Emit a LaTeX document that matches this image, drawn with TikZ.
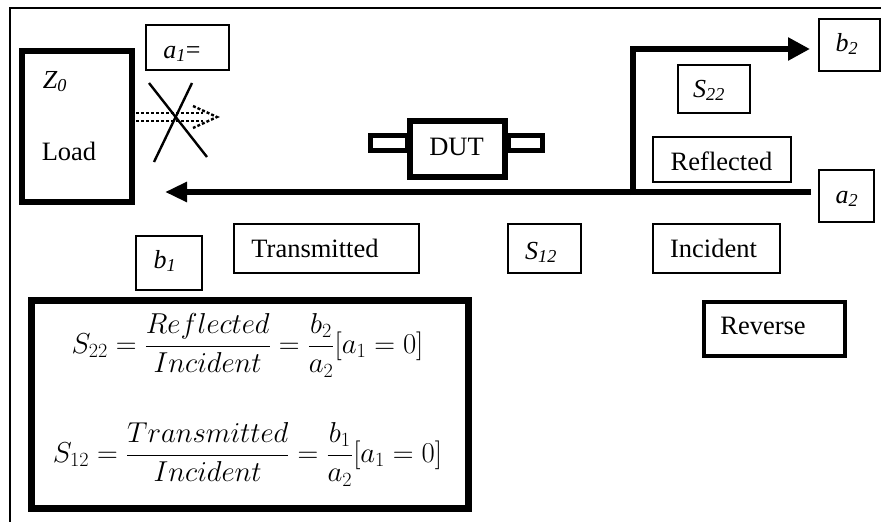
\RequirePackage{fix-cm}
\documentclass[tikz,border=0pt]{standalone}
\usepackage{fontspec}
\setmainfont{Liberation Serif}
\usetikzlibrary{arrows.meta}

\begin{document}
\begin{tikzpicture}[x=1pt,y=-1pt,
  thinbox/.style={draw, line width=1.3pt, inner sep=0pt},
  heavybox/.style={draw, line width=#1, inner sep=0pt},
  word/.style={anchor=base, inner sep=0pt, font=\fontsize{26.5}{30}\selectfont},
  sym/.style={anchor=base, inner sep=0pt, font=\fontsize{26}{30}\selectfont\itshape},
  eqn/.style={anchor=base, inner sep=0pt, font=\fontsize{28.8}{34}\selectfont},
  wave/.style={line width=6.5pt},
  dotline/.style={line width=2.4pt, dash pattern=on 3pt off 2pt},
  crossline/.style={line width=2.4pt},
]
\useasboundingbox (0,0) rectangle (881,522);
\clip (0,0) rectangle (881,522);

% outer frame
\draw[line width=1.5pt] (10,530) -- (10,8) -- (890,8);

% load and DUT
\node[heavybox=6pt, minimum width=110pt, minimum height=151pt] (loadbox) at (77,126.5) {};
\node[sym] (z0) at (55,88) {Z\textsubscript{\itshape 0}};
\node[word] (load) at (69,160) {Load};

\node[heavybox=5pt, minimum width=36.5pt, minimum height=15pt] (stubl) at (388.75,143) {};
\node[heavybox=5pt, minimum width=34.5pt, minimum height=15pt] (stubr) at (525.25,143) {};
\node[heavybox=6pt, fill=white, minimum width=95pt, minimum height=56pt] (dutbox) at (457.5,149) {};
\node[word] (dut) at (456.5,155) {DUT};

% labelled boxes
\node[thinbox, minimum width=83pt, minimum height=45pt] (a1box) at (187.5,47.5) {};
\node[sym] (a1) at (182,58) {a\textsubscript{\itshape 1}\upshape=};

\node[thinbox, minimum width=61pt, minimum height=52pt] (b2box) at (849.5,45) {};
\node[sym] (b2) at (847,51) {b\textsubscript{\itshape 2}};

\node[thinbox, minimum width=72pt, minimum height=48pt] (s22box) at (714,89) {};
\node[sym] (s22) at (709,97) {S\textsubscript{\itshape 22}};

\node[thinbox, minimum width=138pt, minimum height=45pt] (reflbox) at (722,159.5) {};
\node[word] (refl) at (721.5,170) {Reflected};

\node[thinbox, minimum width=55pt, minimum height=52pt] (a2box) at (846.5,196) {};
\node[sym] (a2) at (847,203) {a\textsubscript{\itshape 2}};

\node[thinbox, minimum width=66pt, minimum height=54pt] (b1box) at (169,263) {};
\node[sym] (b1) at (165,268) {b\textsubscript{\itshape 1}};

\node[thinbox, minimum width=185pt, minimum height=49pt] (transbox) at (326.5,248.5) {};
\node[word] (trans) at (315,257) {Transmitted};

\node[thinbox, minimum width=73pt, minimum height=49pt] (s12box) at (544.5,248.5) {};
\node[sym] (s12) at (541,259) {S\textsubscript{\itshape 12}};

\node[thinbox, minimum width=127pt, minimum height=49pt] (incbox) at (716.5,248.5) {};
\node[word] (inc) at (713.5,257) {Incident};

\node[heavybox=4pt, minimum width=141pt, minimum height=54pt] (revbox) at (774.5,329) {};
\node[word] (rev) at (763,334) {Reverse};

% equations
\node[heavybox=7pt, minimum width=437pt, minimum height=208pt] (eqbox) at (250,404.5) {};
\node[eqn] (eq1) at (247.5,353) {$\displaystyle S_{22}=\frac{Reflected}{Incident}=\frac{b_2}{a_2}[a_1=0]$};
\node[eqn] (eq2) at (247.5,462) {$\displaystyle S_{12}=\frac{Transmitted}{Incident}=\frac{b_1}{a_2}[a_1=0]$};

% signal paths
\coordinate (mainstart) at (811,192);
\coordinate (maintip) at (165,192);
\coordinate (branch) at (633,195);
\coordinate (corner) at (633,49);
\coordinate (b2tip) at (810,49);
\draw[wave, -{Triangle[length=22pt,width=19pt]}] (mainstart) -- (maintip);
\draw[line width=6pt, line join=miter, -{Triangle[length=22pt,width=22pt]}] (branch) -- (corner) -- (b2tip);

% blocked incident wave at the load
\coordinate (du1) at (136,113);
\coordinate (du2) at (203,113);
\coordinate (dl1) at (136,121);
\coordinate (dl2) at (203,121);
\coordinate (hu) at (193,106);
\coordinate (htip) at (217,117);
\coordinate (hl) at (193,128);
\draw[dotline] (du1) -- (du2);
\draw[dotline] (dl1) -- (dl2);
\draw[dotline] (hu) -- (htip) -- (hl);

\coordinate (x1a) at (149,83);
\coordinate (x1b) at (207,157);
\coordinate (x2a) at (192,83);
\coordinate (x2b) at (154,162);
\draw[crossline] (x1a) -- (x1b);
\draw[crossline] (x2a) -- (x2b);
\end{tikzpicture}
\end{document}
